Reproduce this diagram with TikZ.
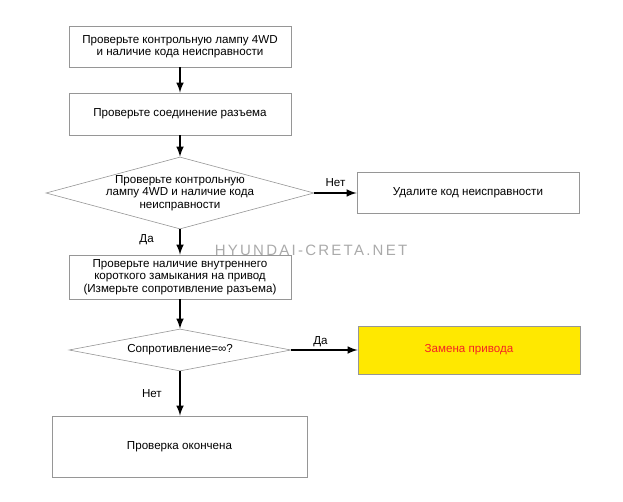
\documentclass[tikz,border=0pt]{standalone}
\usepackage{fontspec}
\setmainfont{Liberation Sans}
\usetikzlibrary{shapes.geometric}

\definecolor{boxgray}{RGB}{150,150,150}
\definecolor{warnyellow}{RGB}{255,232,0}
\definecolor{warnred}{RGB}{245,35,35}
\definecolor{markgray}{RGB}{170,170,170}

\begin{document}
\begin{tikzpicture}[x=1pt,y=-1pt,
    font=\fontsize{11.6}{12.4}\selectfont,
    stepbox/.style={draw=boxgray,line width=0.8pt,minimum width=222pt,
        minimum height=42pt,align=center,inner sep=0pt},
    decision/.style={diamond,draw=boxgray,line width=0.6pt,inner sep=0pt},
    flow/.style={line width=2.4pt,-latex},
    answer/.style={inner sep=1pt}]
    \useasboundingbox (0,0) rectangle (623,502);

    % left column
    \node[stepbox,minimum height=41pt] (lamp) at (180,46.5)
        {Проверьте контрольную лампу 4WD\\и наличие кода неисправности};
    \node[stepbox] (conn) at (180,114) {Проверьте соединение разъема};
    \node[decision,aspect=3.72,minimum width=268pt,minimum height=72pt] (code) at (180,193) {};
    \node[align=center,inner sep=0pt] (codeText) at (code.center)
        {Проверьте контрольную\\лампу 4WD и наличие кода\\неисправности};
    \node[stepbox,minimum height=44pt] (short) at (180,277)
        {Проверьте наличие внутреннего\\короткого замыкания на привод\\(Измерьте сопротивление разъема)};
    \node[decision,aspect=5.3,minimum width=222pt,minimum height=42pt] (resist) at (180,350) {};
    \node[inner sep=0pt] (resistText) at (resist.center) {Сопротивление=∞?};
    \node[stepbox,minimum width=255pt,minimum height=61pt] (done) at (179.5,446.5)
        {Проверка окончена};

    % right column
    \node[stepbox,minimum height=41pt] (clear) at (468,192.5) {Удалите код неисправности};
    \node[stepbox,fill=warnyellow,text=warnred,minimum height=48pt] (swap) at (469,350)
        {Замена привода};

    \node[text=markgray,font=\fontsize{15}{15}\selectfont\addfontfeature{LetterSpace=15}]
        (mark) at (311,250.5) {HYUNDAI-CRETA.NET};

    \draw[flow] (lamp) -- (conn);
    \draw[flow] (conn) -- (code);
    \draw[flow] (code.east) -- (code.east -| clear.west)
        node[answer,midway,above=4.5pt] (noA) {Нет};
    \draw[flow] (code) -- (short)
        node[answer,pos=0.4,left=24pt] (yesA) {Да};
    \draw[flow] (short) -- (resist);
    \draw[flow] (resist.east) -- (resist.east -| swap.west)
        node[answer,pos=0.44,above=1pt] (yesB) {Да};
    \draw[flow] (resist) -- (resist.south |- done.north)
        node[answer,midway,left=16pt] (noB) {Нет};

\end{tikzpicture}
\end{document}
